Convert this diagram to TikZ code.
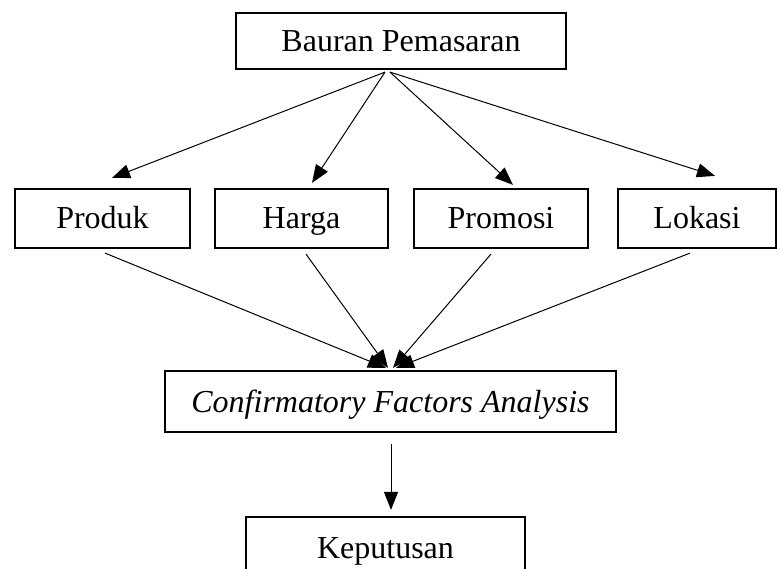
\documentclass[tikz,border=0pt]{standalone}
\usepackage{fontspec}
\setmainfont{Liberation Serif}
\usetikzlibrary{arrows.meta}
\begin{document}
\begin{tikzpicture}[x=1pt,y=-1pt,
  box/.style={draw,line width=2.2pt,inner sep=0pt,text height=24pt,text depth=3pt,font=\fontsize{32}{38}\selectfont},
  arr/.style={line width=1pt,-{Triangle[length=18pt,width=14pt]}}]
\useasboundingbox (0,0) rectangle (779,569);
\node[box,minimum width=330pt,minimum height=56pt] (top) at (401,41) {Bauran Pemasaran};
\node[box,minimum width=175pt,minimum height=59pt] (produk) at (102.5,218.5) {Produk};
\node[box,minimum width=173pt,minimum height=59pt] (harga) at (301.5,218.5) {Harga};
\node[box,minimum width=174pt,minimum height=59pt] (promosi) at (501,218.5) {Promosi};
\node[box,minimum width=158pt,minimum height=59pt] (lokasi) at (697,218.5) {Lokasi};
\node[box,minimum width=451pt,minimum height=61pt,font=\fontsize{32}{38}\selectfont\itshape] (cfa) at (390.5,401.5) {Confirmatory Factors Analysis};
\node[box,minimum width=279pt,minimum height=62pt] (kep) at (385.5,548) {Keputusan};
\draw[arr] ([xshift=-16pt,yshift=-2pt]top.south) -- ([xshift=9.5pt,yshift=10pt]produk.north);
\draw[arr] ([xshift=-16pt,yshift=-2pt]top.south) -- ([xshift=10.5pt,yshift=5pt]harga.north);
\draw[arr] ([xshift=-11pt,yshift=-2pt]top.south) -- ([xshift=12pt,yshift=3pt]promosi.north);
\draw[arr] ([xshift=-11pt,yshift=-2pt]top.south) -- ([xshift=18pt,yshift=12pt]lokasi.north);
\draw[arr] ([xshift=2.5pt,yshift=-4pt]produk.south) -- ([xshift=-4.5pt,yshift=2pt]cfa.north);
\draw[arr] ([xshift=4.5pt,yshift=-5pt]harga.south) -- ([xshift=-2.5pt,yshift=2pt]cfa.north);
\draw[arr] ([xshift=-10pt,yshift=-5pt]promosi.south) -- ([xshift=2.5pt,yshift=2pt]cfa.north);
\draw[arr] ([xshift=-7pt,yshift=-4pt]lokasi.south) -- ([xshift=5.5pt,yshift=2pt]cfa.north);
\draw[arr] ([xshift=0.5pt,yshift=-11pt]cfa.south) -- ([xshift=5.5pt,yshift=6pt]kep.north);
\end{tikzpicture}
\end{document}
